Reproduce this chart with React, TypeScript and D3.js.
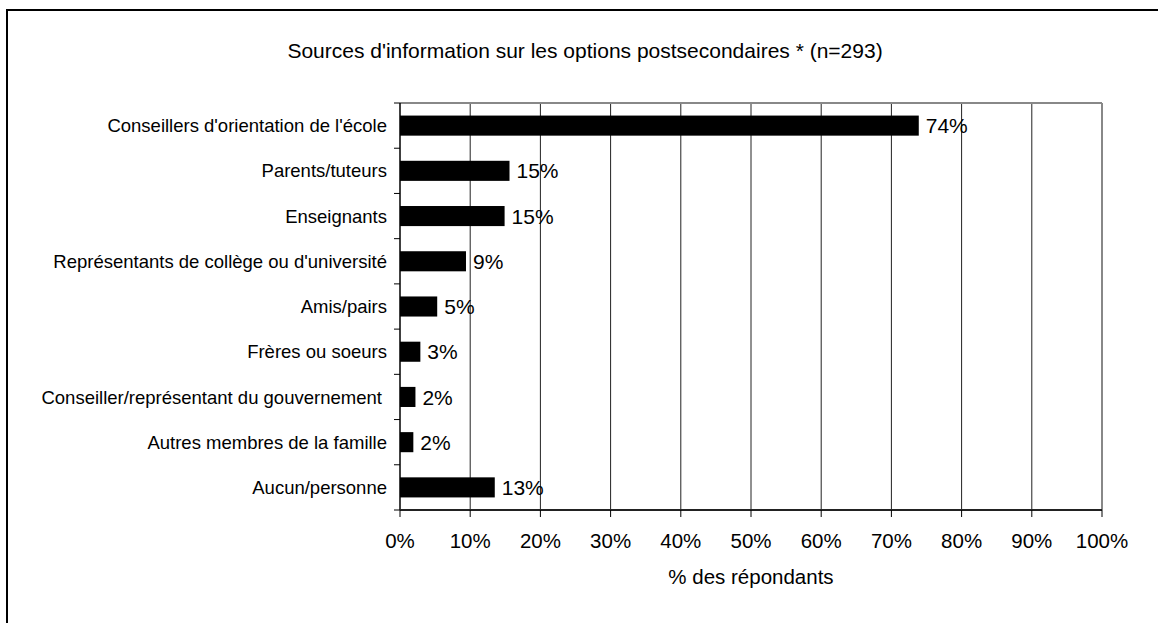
import React from 'react';
import * as d3 from 'd3';

// Data
const categories = [
  "Conseillers d'orientation de l'école",
  'Parents/tuteurs',
  'Enseignants',
  "Représentants de collège ou d'université",
  'Amis/pairs',
  'Frères ou soeurs',
  'Conseiller/représentant du gouvernement ',
  'Autres membres de la famille',
  'Aucun/personne',
];
const values = [73.9, 15.6, 14.9, 9.4, 5.3, 2.9, 2.2, 1.9, 13.5];
const valueLabels = ['74%', '15%', '15%', '9%', '5%', '3%', '2%', '2%', '13%'];
const xTicks = [0, 10, 20, 30, 40, 50, 60, 70, 80, 90, 100];

const title = "Sources d'information sur les options postsecondaires * (n=293)";
const xTitle = '% des répondants';

const W = 1158;
const H = 623;
const margin = { top: 103, right: 56, bottom: 113, left: 400 };
const FONT = '"Liberation Sans", Arial, sans-serif';

const App: React.FC = () => {
  const innerW = W - margin.left - margin.right;
  const innerH = H - margin.top - margin.bottom;

  const x = d3.scaleLinear().domain([0, 100]).range([0, innerW]);
  const y = d3
    .scaleBand<string>()
    .domain(categories)
    .range([0, innerH])
    .paddingInner(0.556)
    .paddingOuter(0.278);

  // category boundaries for the left-axis ticks
  const boundaries = d3.range(categories.length + 1).map((i) => i * (innerH / categories.length));

  return (
    <svg
      width={W}
      height={H}
      style={{ position: 'absolute', left: 0, top: 0, background: '#fff', fontFamily: FONT }}
    >
      {/* outer frame: only the left and top edges are inside the picture */}
      <line x1={7} x2={W} y1={10} y2={10} stroke="#000" strokeWidth={2} />
      <line x1={7} x2={7} y1={9} y2={H} stroke="#000" strokeWidth={2} />

      <text x={585} y={58} textAnchor="middle" fontSize={21} fill="#000">
        {title}
      </text>

      <g transform={`translate(${margin.left},${margin.top})`}>
        {/* vertical gridlines */}
        {xTicks.slice(1, -1).map((t) => (
          <line key={`g${t}`} x1={x(t)} x2={x(t)} y1={0} y2={innerH} stroke="#222" strokeWidth={1} />
        ))}

        {/* plot border top and right */}
        <line x1={0} x2={innerW} y1={0} y2={0} stroke="#888" strokeWidth={2} />
        <line x1={innerW} x2={innerW} y1={0} y2={innerH} stroke="#888" strokeWidth={2} />

        {/* bars */}
        {categories.map((c, i) => (
          <rect key={c} x={x(0)} y={y(c)} width={x(values[i]) - x(0)} height={y.bandwidth()} fill="#000" />
        ))}

        {/* value labels */}
        {categories.map((c, i) => (
          <text
            key={`l${c}`}
            x={x(values[i]) + 7}
            y={(y(c) ?? 0) + y.bandwidth() / 2}
            dy="0.36em"
            fontSize={21}
            fill="#000"
          >
            {valueLabels[i]}
          </text>
        ))}

        {/* left axis */}
        <line x1={0} x2={0} y1={0} y2={innerH} stroke="#000" strokeWidth={1.5} />
        {boundaries.map((b, i) => (
          <line key={`yt${i}`} x1={-6} x2={0} y1={b} y2={b} stroke="#000" strokeWidth={1} />
        ))}
        {categories.map((c) => (
          <text
            key={`c${c}`}
            x={-13}
            y={(y(c) ?? 0) + y.bandwidth() / 2}
            dy="0.36em"
            textAnchor="end"
            fontSize={18.5}
            fill="#000"
            style={{ whiteSpace: 'pre' }}
          >
            {c}
          </text>
        ))}

        {/* bottom axis */}
        <line x1={0} x2={innerW} y1={innerH} y2={innerH} stroke="#222" strokeWidth={2} />
        {xTicks.map((t) => (
          <g key={`xt${t}`} transform={`translate(${x(t)},${innerH})`}>
            <line y1={0} y2={7} stroke="#000" strokeWidth={1} />
            <text y={38} textAnchor="middle" fontSize={20.5} fill="#000">
              {`${t}%`}
            </text>
          </g>
        ))}

        <text x={innerW / 2} y={innerH + 74} textAnchor="middle" fontSize={20.5} fill="#000">
          {xTitle}
        </text>
      </g>
    </svg>
  );
};

export default App;
